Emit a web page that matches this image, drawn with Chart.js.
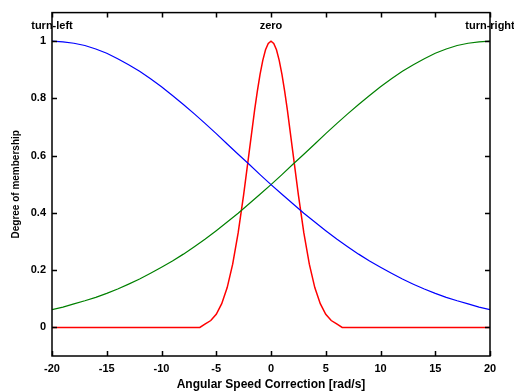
<!DOCTYPE html>
<html>
<head>
<meta charset="utf-8">
<script src="https://cdn.jsdelivr.net/npm/chart.js@4/dist/chart.umd.min.js"></script>
<style>
    html, body { margin: 0; padding: 0; background: #ffffff; }
    #wrap { width: 514px; height: 392px; position: relative; }
</style>
</head>
<body>
<div id="wrap"><canvas id="membershipChart"></canvas></div>
<script>
// angular speed correction samples [rad/s]
const speedX = [-20, -19, -18, -17, -16, -15, -14, -13, -12, -11, -10, -9, -8, -7, -6, -5, -4, -3, -2, -1,
    0, 1, 2, 3, 4, 5, 6, 7, 8, 9, 10, 11, 12, 13, 14, 15, 16, 17, 18, 19, 20];
const turnLeft = [1.000, 0.998, 0.993, 0.985, 0.973, 0.958, 0.939, 0.918, 0.895, 0.869, 0.841, 0.810, 0.779, 0.746,
    0.712, 0.677, 0.641, 0.605, 0.570, 0.534, 0.499, 0.465, 0.432, 0.399, 0.368, 0.338, 0.309, 0.282, 0.256,
    0.232, 0.210, 0.189, 0.169, 0.151, 0.134, 0.119, 0.105, 0.093, 0.082, 0.071, 0.062];
const turnRight = [0.062, 0.071, 0.082, 0.093, 0.105, 0.119, 0.134, 0.151, 0.169, 0.189, 0.210, 0.232, 0.256, 0.282,
    0.309, 0.338, 0.368, 0.399, 0.432, 0.465, 0.499, 0.534, 0.570, 0.605, 0.641, 0.677, 0.712, 0.746, 0.779,
    0.810, 0.841, 0.869, 0.895, 0.918, 0.939, 0.958, 0.973, 0.985, 0.993, 0.998, 1.000];
const zeroX = [-20, -6.5, -6, -5.5, -5, -4.5, -4, -3.5, -3, -2.5, -2, -1.5, -1.25, -1, -0.75, -0.5, -0.25, 0,
    0.25, 0.5, 0.75, 1, 1.25, 1.5, 2, 2.5, 3, 3.5, 4, 4.5, 5, 5.5, 6, 6.5, 20];
const zero = [0, 0, 0.012, 0.024, 0.046, 0.083, 0.139, 0.221, 0.330, 0.463, 0.611, 0.758, 0.825, 0.884, 0.933, 0.970, 0.992, 1,
    0.992, 0.970, 0.933, 0.884, 0.825, 0.758, 0.611, 0.463, 0.330, 0.221, 0.139, 0.083, 0.046, 0.024, 0.012, 0, 0];

const xTicks = [-20, -15, -10, -5, 0, 5, 10, 15, 20];
const yTicks = [0, 0.2, 0.4, 0.6, 0.8, 1];

// set names written above each curve
const setNames = ['turn-left', 'zero', 'turn-right'];
const setNameX = [-20, 0, 20];
const setNameY = [1.055, 1.055, 1.055];

const family = 'Liberation Sans, Arial, sans-serif';
const tickFont = { family: family, size: 11, weight: 'bold' };

const pts = (xs, ys) => xs.map((x, i) => ({ x: x, y: ys[i] }));

// frame, inward tick marks and set names
const framePlugin = {
    id: 'frame',
    afterDatasetsDraw(chart) {
        const { ctx, scales } = chart;
        ctx.save();
        ctx.fillStyle = '#000';
        ctx.font = 'bold 11px ' + family;
        ctx.textAlign = 'center';
        ctx.textBaseline = 'middle';
        setNames.forEach((name, i) => {
            ctx.fillText(name, scales.x.getPixelForValue(setNameX[i]), scales.y.getPixelForValue(setNameY[i]));
        });
        ctx.restore();
    },
    afterDraw(chart) {
        const { ctx, chartArea: a, scales } = chart;
        ctx.save();
        ctx.strokeStyle = '#000';
        ctx.lineWidth = 1.5;
        ctx.strokeRect(a.left, a.top, a.right - a.left, a.bottom - a.top);
        ctx.beginPath();
        xTicks.forEach((v) => {
            const px = Math.round(scales.x.getPixelForValue(v)) + 0.5;
            ctx.moveTo(px, a.bottom); ctx.lineTo(px, a.bottom - 5);
            ctx.moveTo(px, a.top); ctx.lineTo(px, a.top + 5);
        });
        yTicks.forEach((v) => {
            const py = Math.round(scales.y.getPixelForValue(v)) + 0.5;
            ctx.moveTo(a.left, py); ctx.lineTo(a.left + 5, py);
            ctx.moveTo(a.right, py); ctx.lineTo(a.right - 5, py);
        });
        ctx.stroke();
        ctx.restore();
    },
};

new Chart(document.getElementById('membershipChart'), {
    type: 'line',
    data: {
        datasets: [
            { label: 'turn-left', data: pts(speedX, turnLeft), borderColor: '#0000ff', borderWidth: 1.2 },
            { label: 'turn-right', data: pts(speedX, turnRight), borderColor: '#008000', borderWidth: 1.2 },
            { label: 'zero', data: pts(zeroX, zero), borderColor: '#ff0000', borderWidth: 1.5 },
        ],
    },
    options: {
        responsive: true,
        maintainAspectRatio: false,
        animation: false,
        elements: { point: { radius: 0 }, line: { tension: 0 } },
        layout: { padding: { left: 0, top: 9, right: 24, bottom: 0 } },
        plugins: { legend: { display: false }, tooltip: { enabled: false } },
        scales: {
            x: {
                type: 'linear',
                min: -20,
                max: 20,
                grid: { display: false, drawTicks: false },
                border: { display: false },
                afterBuildTicks: function (axis) { axis.ticks = xTicks.map((v) => ({ value: v })); },
                afterFit: function (axis) { axis.height = 36; },
                ticks: { color: '#000', font: tickFont, padding: 6, maxRotation: 0, autoSkip: false },
                title: {
                    display: true,
                    text: 'Angular Speed Correction [rad/s]',
                    color: '#000',
                    font: { family: family, size: 12, weight: 'bold' },
                    padding: { top: 0, bottom: 0 },
                },
            },
            y: {
                min: -0.1,
                max: 1.1,
                grid: { display: false, drawTicks: false },
                border: { display: false },
                afterBuildTicks: function (axis) { axis.ticks = yTicks.map((v) => ({ value: v })); },
                afterFit: function (axis) { axis.width = 52; },
                ticks: {
                    color: '#000',
                    font: tickFont,
                    padding: 6,
                    autoSkip: false,
                    callback: function (value) { return String(value); },
                },
                title: {
                    display: true,
                    text: 'Degree of membership',
                    color: '#000',
                    font: { family: family, size: 10, weight: 'bold' },
                    padding: { top: 10, bottom: 0 },
                },
            },
        },
    },
    plugins: [framePlugin],
});
</script>
</body>
</html>
